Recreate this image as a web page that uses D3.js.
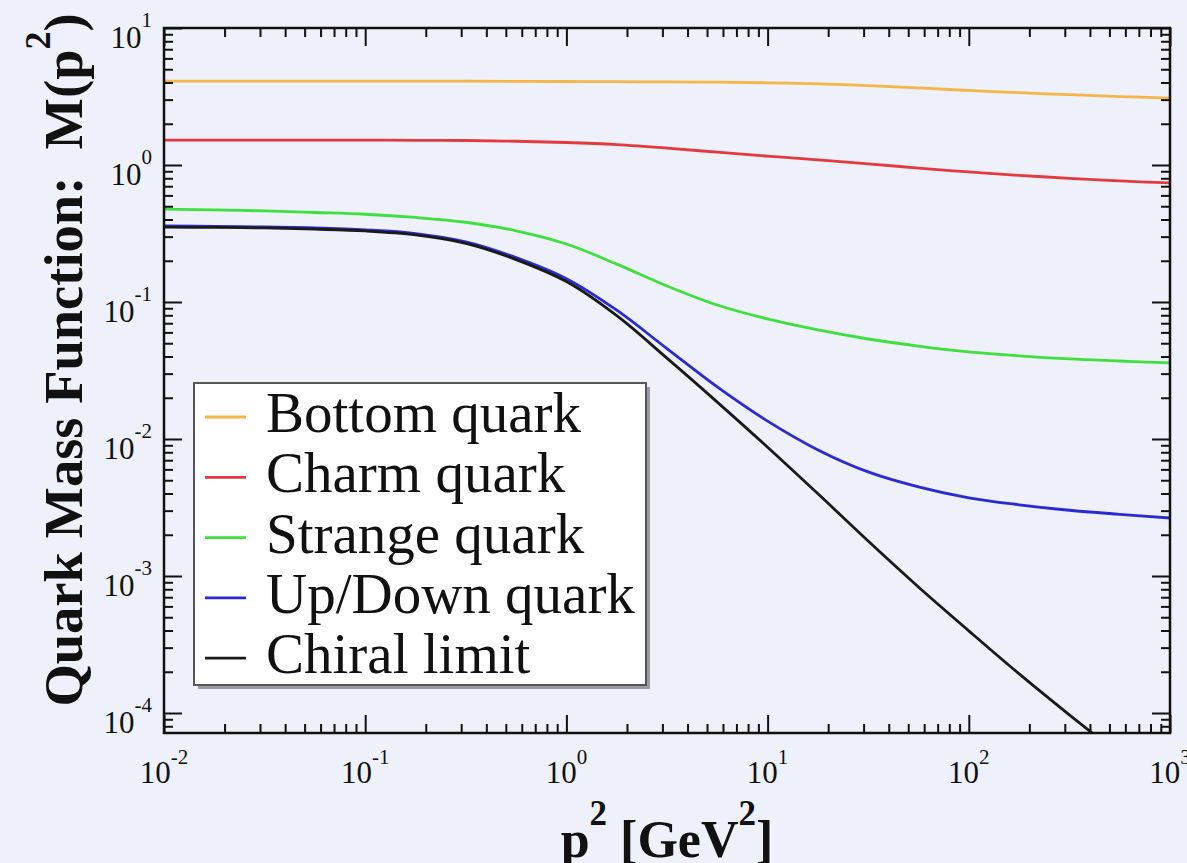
<!DOCTYPE html>
<html>
<head>
<meta charset="utf-8">
<script src="https://cdn.jsdelivr.net/npm/d3@7"></script>
<style>
html,body{margin:0;padding:0;background:#eef0fa;}
svg{display:block;}
</style>
</head>
<body>
<svg id="chart" width="1187" height="863"></svg>
<script>
// ---- data, p^2 on a quarter-decade grid ----
const p2 = [0.01, 0.0178, 0.0316, 0.0562, 0.1, 0.178, 0.316, 0.562, 1, 1.78, 3.16, 5.62, 10, 17.8, 31.6, 56.2, 100, 178, 316, 562, 1000];
const bottomM  = [4.10, 4.10, 4.10, 4.10, 4.10, 4.09, 4.09, 4.08, 4.07, 4.06, 4.04, 4.02, 3.98, 3.91, 3.80, 3.65, 3.50, 3.37, 3.26, 3.16, 3.08];
const charmM   = [1.52, 1.52, 1.52, 1.52, 1.52, 1.515, 1.51, 1.49, 1.46, 1.41, 1.33, 1.24, 1.16, 1.09, 1.02, 0.95, 0.89, 0.84, 0.80, 0.765, 0.74];
const strangeM = [0.477, 0.470, 0.462, 0.450, 0.437, 0.414, 0.382, 0.331, 0.265, 0.189, 0.131, 0.0951, 0.0752, 0.0625, 0.0537, 0.0477, 0.0432, 0.0404, 0.0384, 0.0371, 0.0359];
const updownM  = [0.359, 0.356, 0.353, 0.347, 0.336, 0.316, 0.275, 0.211, 0.148, 0.0871, 0.0457, 0.0240, 0.0135, 0.00832, 0.00575, 0.00447, 0.00372, 0.00331, 0.00302, 0.00282, 0.00265];
const chiralM  = [0.352, 0.350, 0.347, 0.340, 0.330, 0.309, 0.268, 0.204, 0.141, 0.0794, 0.0389, 0.0186, 0.00871, 0.00398, 0.00180, 0.000832, 0.000398, 0.000193, 0.0000970, 0.0000495, 0.0000250];

const seriesNames  = ["Bottom quark", "Charm quark", "Strange quark", "Up/Down quark", "Chiral limit"];
const seriesColors = ["#f5b548", "#e23a40", "#3fdf3f", "#2a2ad0", "#1a1a1a"];
const seriesValues = [bottomM, charmM, strangeM, updownM, chiralM];

const xMajor = [1e-2, 1e-1, 1e0, 1e1, 1e2, 1e3];
const xExp   = ["-2", "-1", "0", "1", "2", "3"];
const yMajor = [1e-4, 1e-3, 1e-2, 1e-1, 1e0, 1e1];
const yExp   = ["-4", "-3", "-2", "-1", "0", "1"];

const xTitleMain = "p", xTitleRest = " [GeV", xTitleEnd = "]";
const yTitleMain = "Quark Mass Function:  M(p", yTitleEnd = ")";

// ---- layout ----
const L = 164, R = 1170, T = 28, B = 733;
const svg = d3.select("#chart");
const x = d3.scaleLog().domain([1e-2, 1e3]).range([L, R]);
const y = d3.scaleLog().domain([Math.pow(10, -4 - 20/137), 10]).range([B, T]);

const serif = "'Liberation Serif','Times New Roman',Times,serif";

function minors(lo, hi) {
  const out = [];
  for (let e = -6; e <= 4; e++) {
    for (let k = 2; k <= 9; k++) {
      const v = k * Math.pow(10, e);
      if (v >= lo && v <= hi) out.push(v);
    }
  }
  return out;
}
const xMinor = minors(x.domain()[0], x.domain()[1]);
const yMinor = minors(y.domain()[0], y.domain()[1]);

// clip
svg.append("defs").append("clipPath").attr("id", "plotclip")
  .append("rect").attr("x", L).attr("y", T).attr("width", R - L).attr("height", B - T);

// ---- curves ----
const line = d3.line().x(d => x(d[0])).y(d => y(d[1])).curve(d3.curveCatmullRom.alpha(0.5));
const gLines = svg.append("g").attr("clip-path", "url(#plotclip)");
seriesValues.forEach((vals, i) => {
  gLines.append("path")
    .datum(p2.map((p, j) => [p, vals[j]]))
    .attr("d", line)
    .attr("fill", "none")
    .attr("stroke", seriesColors[i])
    .attr("stroke-width", 2.8);
});

// ---- axes (inward ticks on all sides) ----
function styleAxis(g) {
  g.select(".domain").remove();
  g.selectAll(".tick line").attr("stroke", "#111").attr("stroke-width", 2);
  g.selectAll(".tick text").remove();
}
const maj = 18, mnr = 9;
[[d3.axisBottom, "x", B], [d3.axisTop, "x", T], [d3.axisLeft, "y", L], [d3.axisRight, "y", R]].forEach(([ax, dim, pos]) => {
  const sc = dim === "x" ? x : y;
  const mj = dim === "x" ? xMajor : yMajor;
  const mn = dim === "x" ? xMinor : yMinor;
  const tr = dim === "x" ? `translate(0,${pos})` : `translate(${pos},0)`;
  svg.append("g").attr("transform", tr)
    .call(ax(sc).tickValues(mn).tickSizeInner(-mnr).tickSizeOuter(0).tickFormat(""))
    .call(styleAxis);
  svg.append("g").attr("transform", tr)
    .call(ax(sc).tickValues(mj).tickSizeInner(-maj).tickSizeOuter(0).tickFormat(""))
    .call(styleAxis);
});

// frame
svg.append("rect").attr("x", L).attr("y", T).attr("width", R - L).attr("height", B - T)
  .attr("fill", "none").attr("stroke", "#111").attr("stroke-width", 2.5);

// ---- tick labels ----
xMajor.forEach((v, i) => {
  const t = svg.append("text").attr("x", x(v)).attr("y", 783)
    .attr("text-anchor", "middle").attr("font-family", serif).attr("font-size", 31).attr("fill", "#111");
  t.append("tspan").text("10");
  t.append("tspan").attr("dy", -19).attr("font-size", 21).text(xExp[i]);
});
yMajor.forEach((v, i) => {
  const t = svg.append("text").attr("x", 152).attr("y", y(v) + 20)
    .attr("text-anchor", "end").attr("font-family", serif).attr("font-size", 31).attr("fill", "#111");
  t.append("tspan").text("10");
  t.append("tspan").attr("dy", -21).attr("font-size", 21).text(yExp[i]);
});

// ---- axis titles ----
const xt = svg.append("text").attr("x", 667).attr("y", 857).attr("text-anchor", "middle")
  .attr("font-family", serif).attr("font-weight", "bold").attr("font-size", 52).attr("fill", "#111")
  .style("white-space", "pre");
xt.append("tspan").text(xTitleMain);
xt.append("tspan").attr("dy", -32).attr("font-size", 35).text("2");
xt.append("tspan").attr("dy", 32).text(xTitleRest);
xt.append("tspan").attr("dy", -32).attr("font-size", 35).text("2");
xt.append("tspan").attr("dy", 32).text(xTitleEnd);

const yt = svg.append("text").attr("transform", "translate(82,360) rotate(-90)").attr("text-anchor", "middle")
  .attr("font-family", serif).attr("font-weight", "bold").attr("font-size", 54.5).attr("fill", "#111")
  .style("white-space", "pre");
yt.append("tspan").text(yTitleMain);
yt.append("tspan").attr("dy", -32).attr("font-size", 36).text("2");
yt.append("tspan").attr("dy", 32).text(yTitleEnd);

// ---- legend ----
const lx = 194, ly = 383, lw = 452, lh = 302;
svg.append("rect").attr("x", lx + 4).attr("y", ly + 4).attr("width", lw).attr("height", lh).attr("fill", "#9a9aa2");
svg.append("rect").attr("x", lx).attr("y", ly).attr("width", lw).attr("height", lh)
  .attr("fill", "#ffffff").attr("stroke", "#555").attr("stroke-width", 2);
seriesNames.forEach((name, i) => {
  const base = 432 + 60.3 * i;
  svg.append("line").attr("x1", 205).attr("x2", 246).attr("y1", base - 15).attr("y2", base - 15)
    .attr("stroke", seriesColors[i]).attr("stroke-width", 2.8);
  svg.append("text").attr("x", 266).attr("y", base)
    .attr("font-family", serif).attr("font-size", 57).attr("fill", "#111").text(name);
});
</script>
</body>
</html>
